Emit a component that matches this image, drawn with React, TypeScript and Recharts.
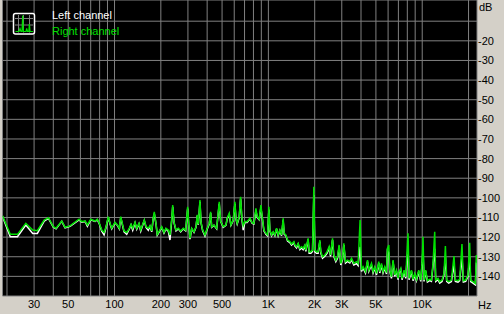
import React from 'react';
import { ComposedChart, Line, XAxis, YAxis, CartesianGrid } from 'recharts';

const freqHz = [
  18.7, 21.0, 23.4, 26.5, 29.4, 31.5, 34.9, 37.2, 40.0, 41.7,
  45.4, 47.7, 51.4, 58.8, 61.2, 64.4, 66.6, 70.1, 74.7, 77.3,
  79.7, 82.6, 85.5, 88.1, 91.1, 93.5, 95.9, 100.7, 104.3, 107.5,
  109.7, 115.3, 120.0, 124.8, 128.0, 131.3, 135.9, 139.4, 144.2, 148.0,
  152.5, 156.1, 160.2, 165.8, 170.0, 174.4, 178.6, 181.3, 186.0, 189.6,
  195.4, 202.5, 209.6, 216.0, 223.6, 229.3, 235.2, 238.8, 243.5, 250.9,
  259.6, 269.1, 279.8, 290.0, 298.8, 303.4, 309.4, 317.3, 328.4, 338.4,
  345.0, 350.2, 359.2, 364.6, 374.0, 387.1, 400.6, 412.8, 421.5, 427.9,
  442.9, 461.1, 479.4, 489.5, 509.0, 529.7, 540.1, 556.5, 570.8, 590.8,
  606.0, 615.2, 627.2, 646.2, 659.9, 672.8, 686.1, 703.8, 728.3, 758.6,
  785.0, 805.2, 829.6, 846.0, 871.8, 894.1, 911.6, 935.1, 963.6, 988.1,
  1007.5, 1022.6, 1049.0, 1074.5, 1102.2, 1130.5, 1157.8, 1187.6, 1218.1, 1247.6,
  1266.4, 1298.9, 1332.5, 1379.0, 1414.4, 1464.0, 1486.1, 1524.3, 1561.2, 1601.3,
  1642.7, 1682.6, 1725.8, 1751.8, 1813.0, 1840.3, 1887.9, 1936.4, 1974.5, 2004.2,
  2056.0, 2105.8, 2160.0, 2192.6, 2248.9, 2327.8, 2409.0, 2482.2, 2534.7, 2611.8,
  2662.9, 2743.8, 2814.6, 2882.5, 2956.7, 3032.8, 3092.7, 3172.2, 3268.6, 3382.7,
  3470.2, 3591.8, 3739.6, 3830.2, 3946.7, 4030.2, 4127.8, 4278.5, 4408.5, 4494.7,
  4679.4, 4792.9, 4916.8, 5043.2, 5219.4, 5296.6, 5433.6, 5565.2, 5708.0, 5854.7,
  5943.0, 6060.5, 6151.8, 6309.6, 6462.4, 6628.8, 6800.0, 6964.8, 7070.0, 7251.5,
  7393.4, 7618.1, 7814.9, 8087.9, 8210.0, 8511.0, 8717.3, 8940.9, 9170.3, 9490.7,
  9779.1, 9970.0, 10120, 10273, 10537, 10809, 11187, 11474, 11752, 12055,
  12237, 12664, 12990, 13446, 13854, 14144, 14424, 14862, 15473, 16086,
  16426, 17078, 17517, 18129, 18513, 19163, 19833, 20342, 20649, 21373,
  22155, 22486,
];

const rightDb = [
  -109.1, -118.6, -118.6, -113.0, -116.4, -116.7, -111.3, -110.1, -114.7, -115.5,
  -111.8, -115.0, -114.3, -110.9, -112.1, -111.8, -113.8, -110.9, -111.8, -110.9,
  -113.0, -116.4, -117.6, -114.7, -109.6, -113.0, -115.5, -112.5, -113.8, -115.5,
  -109.6, -116.9, -117.6, -115.5, -113.5, -115.5, -112.5, -115.5, -113.0, -116.4,
  -113.5, -111.3, -114.7, -115.5, -114.2, -116.9, -110.1, -107.1, -113.0, -118.6,
  -116.9, -114.7, -117.6, -115.5, -116.4, -118.9, -111.3, -103.7, -112.2, -116.4,
  -115.5, -116.9, -115.5, -116.4, -104.5, -113.0, -120.6, -115.5, -117.3, -114.7,
  -108.7, -113.5, -101.1, -112.2, -116.4, -118.9, -115.5, -113.0, -107.1, -114.7,
  -113.8, -115.5, -102.0, -111.8, -114.7, -113.8, -110.4, -107.9, -113.8, -111.3,
  -102.0, -110.4, -113.0, -109.6, -99.4, -110.4, -114.2, -112.0, -112.2, -110.4,
  -112.7, -113.0, -105.3, -109.6, -110.9, -103.7, -109.6, -116.4, -118.1, -118.9,
  -104.5, -116.4, -118.9, -117.3, -118.9, -115.5, -118.9, -116.4, -118.9, -110.4,
  -118.1, -118.9, -121.5, -122.3, -123.5, -122.3, -124.0, -124.9, -123.2, -125.7,
  -124.9, -125.7, -124.0, -126.6, -120.6, -127.4, -127.4, -126.6, -94.3, -126.6,
  -127.4, -127.4, -121.5, -127.4, -130.0, -129.1, -127.4, -124.9, -129.1, -120.6,
  -129.1, -131.7, -130.0, -124.0, -133.4, -130.8, -123.2, -132.5, -131.7, -132.5,
  -130.8, -133.4, -132.5, -133.5, -111.3, -136.8, -135.1, -137.6, -131.7, -136.8,
  -133.4, -137.6, -135.1, -138.5, -132.5, -137.6, -133.4, -137.6, -135.1, -138.1,
  -125.7, -124.0, -136.8, -140.2, -131.7, -139.3, -136.8, -141.0, -137.6, -135.9,
  -141.0, -136.8, -140.2, -118.1, -141.0, -136.8, -141.5, -138.5, -141.5, -136.8,
  -141.9, -133.4, -119.8, -141.9, -136.8, -142.2, -141.5, -141.9, -133.4, -117.3,
  -141.9, -141.0, -142.7, -141.9, -138.5, -124.5, -141.9, -142.7, -141.9, -129.6,
  -141.9, -142.2, -141.5, -123.5, -142.2, -141.9, -139.3, -122.9, -141.9, -142.7,
  -143.6, -129.1,
];

const leftDb = [
  -109.5, -119.8, -119.8, -113.8, -118.1, -118.1, -111.8, -110.5, -115.0, -115.8,
  -112.0, -115.3, -114.5, -111.2, -112.4, -112.0, -114.5, -111.2, -112.0, -111.2,
  -113.3, -117.0, -118.9, -115.0, -110.0, -113.3, -115.8, -112.8, -114.0, -115.8,
  -110.0, -117.3, -118.5, -115.8, -113.8, -116.5, -112.8, -116.0, -113.3, -117.0,
  -113.8, -111.6, -115.0, -116.5, -114.5, -117.3, -110.5, -108.0, -113.3, -119.0,
  -117.3, -115.0, -118.0, -115.8, -117.0, -121.5, -111.8, -104.5, -112.5, -116.8,
  -115.8, -117.3, -115.8, -116.8, -105.5, -113.5, -121.0, -115.8, -117.6, -115.0,
  -109.0, -113.8, -102.0, -112.5, -116.8, -119.5, -115.8, -113.3, -107.8, -115.0,
  -114.0, -115.8, -103.0, -112.0, -115.0, -114.0, -110.7, -108.5, -114.0, -111.6,
  -103.0, -110.7, -113.3, -110.0, -100.5, -110.7, -116.4, -112.4, -112.5, -110.7,
  -113.0, -113.3, -106.5, -110.0, -111.2, -105.0, -110.0, -116.8, -118.5, -119.3,
  -106.0, -116.8, -119.3, -117.6, -119.3, -115.8, -119.3, -116.8, -119.3, -111.5,
  -118.5, -119.3, -122.0, -122.8, -124.0, -122.8, -124.5, -125.5, -123.6, -126.4,
  -125.5, -126.4, -124.5, -127.3, -121.2, -128.2, -128.2, -127.3, -98.6, -127.5,
  -128.2, -128.2, -122.3, -128.2, -130.8, -129.8, -128.2, -125.6, -129.8, -121.5,
  -129.8, -132.5, -130.8, -124.8, -134.2, -131.5, -124.0, -133.2, -132.4, -133.2,
  -131.5, -134.2, -133.5, -134.5, -125.0, -137.5, -135.8, -138.3, -132.5, -137.5,
  -134.2, -138.3, -135.8, -139.2, -133.2, -138.3, -134.2, -138.3, -135.8, -138.8,
  -127.0, -128.0, -137.5, -141.0, -132.5, -140.0, -137.5, -141.7, -138.3, -136.6,
  -141.7, -137.5, -141.0, -125.0, -141.7, -137.5, -142.2, -139.2, -142.2, -137.5,
  -142.6, -134.2, -126.0, -142.6, -137.5, -142.9, -142.2, -142.6, -134.5, -126.0,
  -142.6, -141.7, -143.4, -142.6, -139.2, -130.0, -142.6, -143.4, -142.6, -134.0,
  -142.6, -142.9, -142.2, -130.0, -142.9, -142.6, -140.0, -130.0, -142.6, -143.4,
  -144.3, -133.0,
];

const xTickValues = [
  20, 30, 40, 50, 60, 70, 80, 90, 100, 200, 300, 400, 500, 600, 700, 800, 900,
  1000, 2000, 3000, 4000, 5000, 6000, 7000, 8000, 9000, 10000, 20000,
];
const xTickLabels = [
  '', '30', '', '50', '', '', '', '', '100', '200', '300', '', '500', '', '', '', '',
  '1K', '2K', '3K', '', '5K', '', '', '', '', '10K', '',
];
const yTickValues = [-10, -20, -30, -40, -50, -60, -70, -80, -90, -100, -110, -120, -130, -140];
const yTickLabels = ['', '-20', '-30', '-40', '-50', '-60', '-70', '-80', '-90', '-100', '-110', '-120', '-130', '-140'];
const seriesNames = ['Left channel', 'Right channel'];
const yUnit = 'dB';
const xUnit = 'Hz';

const W = 504;
const H = 314;
const FONT = '"Liberation Sans", Arial, sans-serif';
const GREEN = '#00e000';
const GRID = '#808080';

export default function App() {
  const data = freqHz.map((f, i) => ({ f, left: leftDb[i], right: rightDb[i] }));
  const fmtX = (v: number) => {
    const i = xTickValues.indexOf(v);
    return i >= 0 ? xTickLabels[i] : '';
  };
  const fmtY = (v: number) => {
    const i = yTickValues.indexOf(v);
    return i >= 0 ? yTickLabels[i] : '';
  };
  return (
    <div
      style={{
        position: 'absolute',
        left: 0,
        top: 0,
        width: W,
        height: H,
        background: '#d4d0c8',
        fontFamily: FONT,
        overflow: 'hidden',
      }}
    >
      <ComposedChart width={W} height={H} data={data} margin={{ top: 0, right: 0, bottom: 0, left: 2.5 }}>
        <CartesianGrid stroke={GRID} fill="#000000" fillOpacity={1} strokeWidth={1} />
        <XAxis
          dataKey="f"
          type="number"
          scale="log"
          domain={[18.7, 22700]}
          allowDataOverflow
          ticks={xTickValues}
          interval={0}
          tickFormatter={fmtX}
          tickLine={false}
          axisLine={false}
          tickSize={0}
          tickMargin={4}
          height={18}
          tick={{ fill: '#000', fontSize: 11, fontFamily: FONT }}
        />
        <YAxis
          orientation="right"
          type="number"
          domain={[-150, 0.8]}
          allowDataOverflow
          ticks={yTickValues}
          interval={0}
          tickFormatter={fmtY}
          tickLine={false}
          axisLine={false}
          tickSize={0}
          tickMargin={1}
          width={27}
          tick={{ fill: '#000', fontSize: 11, fontFamily: FONT, textAnchor: 'start' }}
        />
        <Line
          type="linear"
          dataKey="left"
          name={seriesNames[0]}
          stroke="#ffffff"
          strokeWidth={1.5}
          dot={false}
          isAnimationActive={false}
        />
        <Line
          type="linear"
          dataKey="right"
          name={seriesNames[1]}
          stroke={GREEN}
          strokeWidth={1.5}
          dot={false}
          isAnimationActive={false}
        />
      </ComposedChart>
      <svg
        width={W}
        height={H}
        style={{ position: 'absolute', left: 0, top: 0, pointerEvents: 'none' }}
      >
        <rect x={13.5} y={13.5} width={21} height={20.5} rx={2} fill="#000" stroke="#fff" strokeWidth={1.5} />
        <g stroke={GRID} strokeWidth={1}>
          <line x1={18.5} y1={15} x2={18.5} y2={32.5} />
          <line x1={23.5} y1={15} x2={23.5} y2={32.5} />
          <line x1={29.5} y1={15} x2={29.5} y2={32.5} />
          <line x1={15} y1={18.5} x2={33} y2={18.5} />
          <line x1={15} y1={25} x2={33} y2={25} />
        </g>
        <polyline
          points="15.5,31.5 19,31.5 20,28.5 21,31.5 22,31.5 22.7,15.5 23.4,31.5 26,31.5 26.7,28.5 27.5,31.5 28.8,31.5 29.4,24 30,31.5 33,31.5"
          fill="none"
          stroke={GREEN}
          strokeWidth={1.2}
        />
        <text x={52} y={19} fill="#ffffff" fontSize={11} fontFamily={FONT}>{seriesNames[0]}</text>
        <text x={52} y={34.5} fill={GREEN} fontSize={11} fontFamily={FONT}>{seriesNames[1]}</text>
        <text x={479} y={11} fill="#000" fontSize={11} fontFamily={FONT}>{yUnit}</text>
        <text x={478} y={308.5} fill="#000" fontSize={11} fontFamily={FONT}>{xUnit}</text>
      </svg>
    </div>
  );
}
